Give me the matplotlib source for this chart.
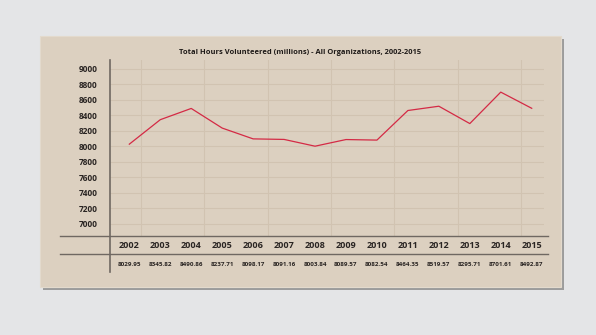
import matplotlib
matplotlib.use("Agg")
import matplotlib.pyplot as plt
from matplotlib.transforms import blended_transform_factory
from matplotlib.lines import Line2D
from matplotlib.patches import Rectangle

years = [2002, 2003, 2004, 2005, 2006, 2007, 2008, 2009, 2010, 2011, 2012, 2013, 2014, 2015]
hours = [8029.95, 8345.82, 8490.86, 8237.71, 8098.17, 8091.16, 8003.84, 8089.57,
         8082.54, 8464.35, 8519.57, 8295.71, 8701.61, 8492.87]
yticks = [7000, 7200, 7400, 7600, 7800, 8000, 8200, 8400, 8600, 8800, 9000]
title = "Total Hours Volunteered (millions) - All Organizations, 2002-2015"

W, H = 596, 335
FONT = ["Open Sans", "DejaVu Sans"]

def fx(x):
    return x / W

def fy(y):
    return 1 - y / H

fig = plt.figure(figsize=(W / 100, H / 100), dpi=100)
fig.patch.set_facecolor("#e4e5e7")

# card shadow and card
fig.patches.append(Rectangle((fx(43), fy(290)), fx(561) - fx(40), fy(36) - fy(287),
                             transform=fig.transFigure, facecolor="#9c9c9c",
                             edgecolor="none", zorder=-2))
fig.patches.append(Rectangle((fx(40), fy(287)), fx(561) - fx(40), fy(36) - fy(287),
                             transform=fig.transFigure, facecolor="#dcd0c0",
                             edgecolor="#e3dacd", linewidth=0.8, zorder=-1))

ax_l, ax_r, ax_t, ax_b = 110, 544, 60, 236
ax = fig.add_axes([fx(ax_l), fy(ax_b), fx(ax_r) - fx(ax_l), fy(ax_t) - fy(ax_b)])
ax.set_facecolor("none")
for s in ax.spines.values():
    s.set_visible(False)

ax.set_xlim(2001.376, 2015.397)
ax.set_ylim(6845, 9116)

grid_c = "#d1c3b1"
for t in yticks:
    ax.axhline(t, color=grid_c, lw=0.8, zorder=1)
for xp in [140.7, 204, 267.5, 331, 394, 457.5, 521]:
    ax.axvline(ax.get_xlim()[0] + (xp - ax_l) / (ax_r - ax_l) * (ax.get_xlim()[1] - ax.get_xlim()[0]),
               color=grid_c, lw=0.8, zorder=1)

ax.plot(years, hours, color="#d42a45", lw=0.9, zorder=3)

ax.set_xticks([])
ax.set_yticks(yticks)
ax.set_yticklabels([str(t) for t in yticks], fontfamily=FONT, fontweight="bold",
                   fontsize=6.0, color="#2a2523")
ax.tick_params(axis="y", length=0, pad=9)

# table lines
dark = "#6f6862"
fig.add_artist(Line2D([fx(110), fx(110)], [fy(60), fy(272)], color=dark, lw=1.2,
                      transform=fig.transFigure))
for yy in (236, 254):
    fig.add_artist(Line2D([fx(60), fx(548)], [fy(yy), fy(yy)], color=dark, lw=1.0,
                          transform=fig.transFigure))

tr = blended_transform_factory(ax.transData, fig.transFigure)
for yr, v in zip(years, hours):
    ax.text(yr, fy(245.5), str(yr), transform=tr, ha="center", va="center",
            fontfamily=FONT, fontweight="bold", fontsize=6.5, color="#2a2523", clip_on=False)
    ax.text(yr, fy(264.5), f"{v:.2f}", transform=tr, ha="center", va="center",
            fontfamily=FONT, fontweight="bold", fontsize=4.5, color="#2a2523", clip_on=False)

fig.text(fx(300), fy(53), title, ha="center", va="center", fontfamily=FONT,
         fontweight="bold", fontsize=5.4, color="#1e1a18")

fig.savefig("out.png", dpi=100, facecolor=fig.get_facecolor())
